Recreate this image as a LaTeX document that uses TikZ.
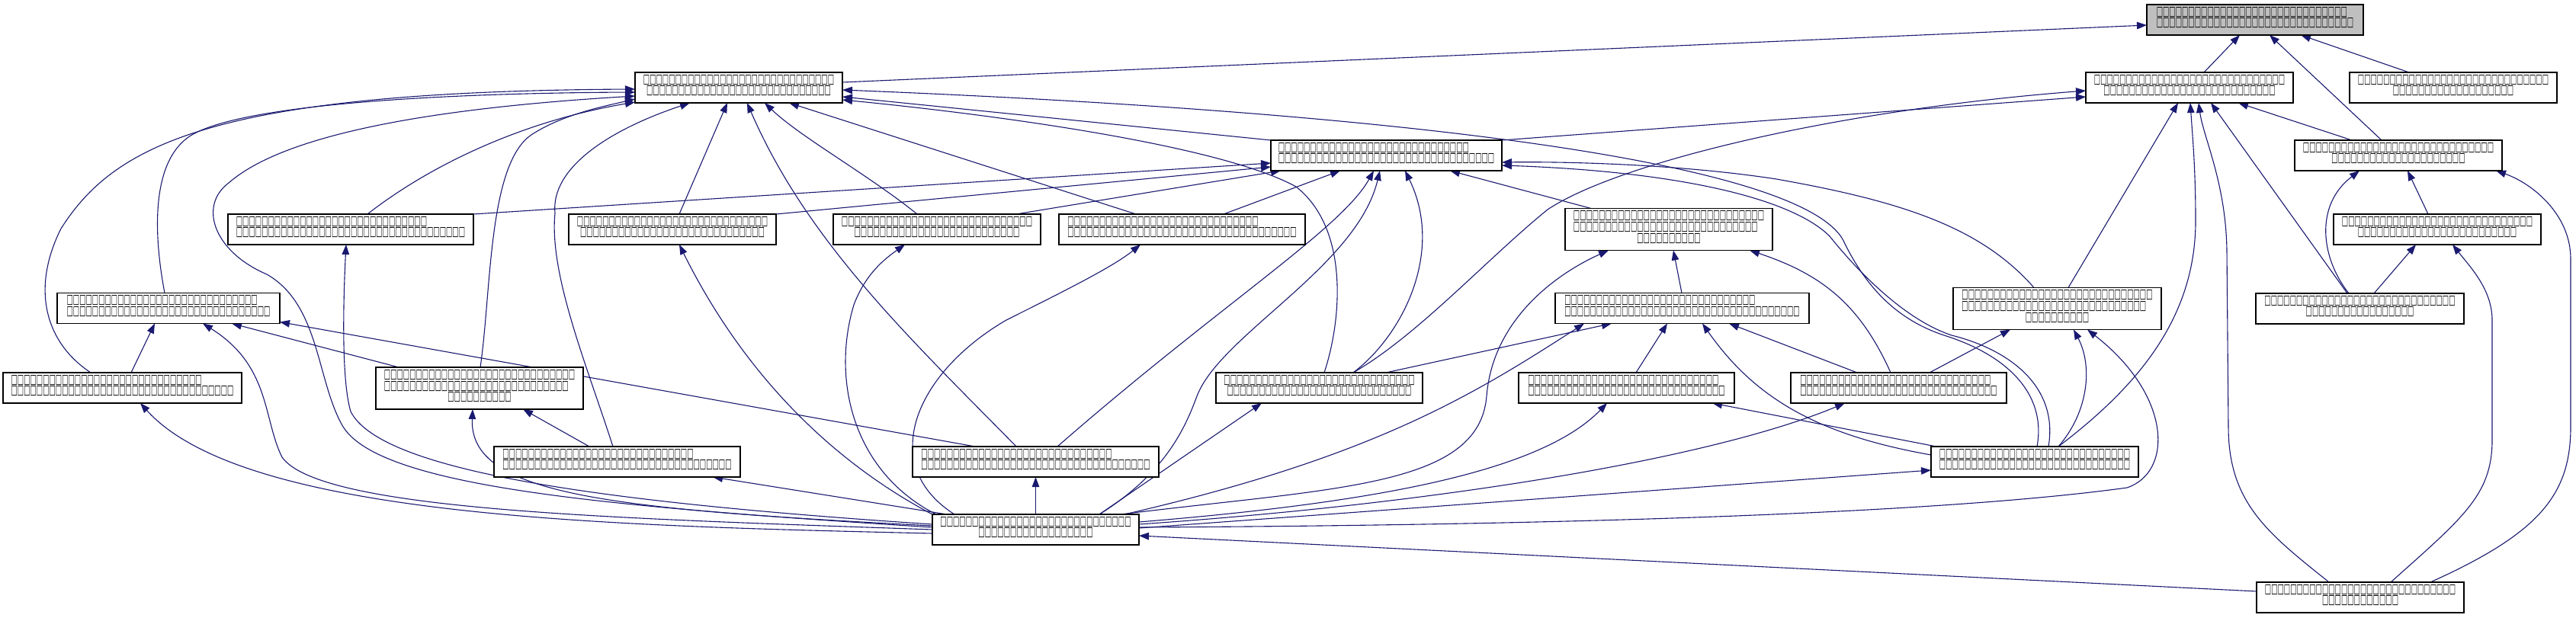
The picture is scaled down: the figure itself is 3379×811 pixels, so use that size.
\documentclass[tikz,border=0pt]{standalone}
\usepackage{fontspec}
\usepackage{graphicx}
\usetikzlibrary{arrows.meta,calc}
\newfontfamily\tofufont{DejaVu Sans}
\newcommand\tg{\makebox[8.34pt][c]{\resizebox{8.3pt}{11pt}{\tofufont\bfseries □}}}
\ExplSyntaxOn
\cs_new:Npn \tfrow #1 { \prg_replicate:nn {#1} { \tg } }
\ExplSyntaxOff
\newcommand\tfpad[2]{\makebox[\dimexpr 8.34pt*#2\relax][l]{\tfrow{#1}}}
\newcommand\tfend{\rule[-7.8pt]{0pt}{7.8pt}}
\definecolor{edgeblue}{HTML}{191970}
\pgfdeclarelayer{edges}
\pgfsetlayers{edges,main}
\tikzset{
  dnode/.style={draw=black, line width=1.3pt, fill=white, inner sep=0pt, outer sep=0pt,
    minimum height=40pt, font=\fontsize{11pt}{14.7pt}\selectfont},
  dedge/.style={draw=edgeblue, line width=1.1pt, -{Triangle[length=13pt,width=9.5pt]}},
}
\begin{document}
\begin{tikzpicture}[x=1pt,y=-1pt]
\useasboundingbox (0,0) rectangle (3379,811);
% nodes
\node[dnode, minimum width=284pt, fill=gray!50, align=left] (T) at (2958,26) {\tfrow{30}\\\tfrow{31}\tfend};
\node[dnode, minimum width=272pt, align=center] (N1) at (969,115) {\tfrow{30}\\\tfrow{29}\tfend};
\node[dnode, minimum width=272pt, align=center] (H) at (2872,115) {\tfrow{30}\\\tfrow{27}\tfend};
\node[dnode, minimum width=272pt, align=center] (I) at (3218,115) {\tfrow{30}\\\tfrow{19}\tfend};
\node[dnode, minimum width=303pt, align=left] (Hub) at (1818.5,204) {\tfrow{30}\\\tfrow{34}\tfend};
\node[dnode, minimum width=272pt, align=center] (J) at (3146,204) {\tfrow{30}\\\tfrow{21}\tfend};
\node[dnode, minimum width=322pt, align=left] (A) at (460,301) {\tfrow{30}\\\tfrow{36}\tfend};
\node[dnode, minimum width=272pt, align=center] (B) at (882,301) {\tfrow{30}\\\tfrow{29}\tfend};
\node[dnode, minimum width=272pt, align=center] (D) at (1229,301) {\tfrow{30}\\\tfrow{26}\tfend};
\node[dnode, minimum width=323pt, align=left] (E) at (1550.5,301) {\tfrow{30}\\\tfrow{36}\tfend};
\node[dnode, minimum width=272pt, minimum height=55pt, align=center] (F) at (2189,301) {\tfrow{30}\\\tfpad{29}{30}\\\tfrow{10}\tfend};
\node[dnode, minimum width=272pt, align=center] (K) at (3197,301) {\tfrow{30}\\\tfrow{25}\tfend};
\node[dnode, minimum width=292pt, align=left] (C) at (221,404.5) {\tfrow{30}\\\tfrow{32}\tfend};
\node[dnode, minimum width=333pt, align=left] (G) at (2206.5,404.5) {\tfrow{30}\\\tfrow{37}\tfend};
\node[dnode, minimum width=273pt, minimum height=55pt, align=center] (L) at (2698.5,405) {\tfrow{30}\\\tfpad{29}{30}\\\tfrow{10}\tfend};
\node[dnode, minimum width=273pt, align=center] (M) at (3095.5,405) {\tfrow{30}\\\tfrow{17}\tfend};
\node[dnode, minimum width=313pt, align=left] (N) at (160.5,509) {\tfrow{30}\\\tfrow{35}\tfend};
\node[dnode, minimum width=272pt, minimum height=55pt, align=center] (O) at (629,509.5) {\tfrow{30}\\\tfpad{29}{30}\\\tfrow{10}\tfend};
\node[dnode, minimum width=271pt, align=center] (R) at (1730.5,509) {\tfrow{30}\\\tfrow{29}\tfend};
\node[dnode, minimum width=283pt, align=left] (S) at (2133.5,509) {\tfrow{30}\\\tfrow{31}\tfend};
\node[dnode, minimum width=283pt, align=left] (U) at (2490.5,509) {\tfrow{30}\\\tfrow{31}\tfend};
\node[dnode, minimum width=323pt, align=left] (P) at (809.5,606) {\tfrow{30}\\\tfrow{36}\tfend};
\node[dnode, minimum width=323pt, align=left] (Q) at (1358.5,606) {\tfrow{30}\\\tfrow{36}\tfend};
\node[dnode, minimum width=272pt, align=center] (V) at (2669,606) {\tfrow{30}\\\tfrow{30}\tfend};
\node[dnode, minimum width=271pt, align=center] (Bot) at (1358.5,695) {\tfrow{30}\\\tfrow{18}\tfend};
\node[dnode, minimum width=272pt, align=center] (W) at (3096,784) {\tfrow{30}\\\tfrow{12}\tfend};
% edges
\begin{pgfonlayer}{edges}
\draw[dedge] ($(N1.north east)+(0,13)$) -- ($(T.north west)+(0,27)$);
\draw[dedge] ($(H.north west)+(155,0)$) -- ($(T.south west)+(122,0)$);
\draw[dedge] ($(J.north west)+(114,0)$) -- ($(T.south west)+(161,0)$);
\draw[dedge] ($(I.north west)+(78,0)$) -- ($(T.south west)+(202,0)$);
\draw[dedge] (Hub.north east) -- ($(H.north west)+(0,32)$);
\draw[dedge] ($(R.north west)+(180,0)$) .. controls (1860,440) and (1950,340) .. (2030,275) .. controls (2120,215) and (2400,145) .. ($(H.north west)+(0,24)$);
\draw[dedge] ($(L.north west)+(151,0)$) -- ($(H.south west)+(121,0)$);
\draw[dedge] ($(V.north west)+(167,0)$) .. controls (2800,510) and (2880,420) .. (2880,290) .. controls (2880,220) and (2876,180) .. ($(H.south west)+(137,0)$);
\draw[dedge] ($(W.north west)+(95,0)$) .. controls (2975,700) and (2923,660) .. (2923,560) -- (2921,330) .. controls (2920,240) and (2890,180) .. ($(H.south west)+(148,0)$);
\draw[dedge] ($(M.north west)+(120,0)$) -- ($(H.south west)+(164,0)$);
\draw[dedge] ($(J.north west)+(75,0)$) -- ($(H.south west)+(200,0)$);
\draw[dedge] (Hub.north west) -- ($(N1.north east)+(0,32)$);
\draw[dedge] ($(R.north west)+(142,0)$) .. controls (1760,420) and (1770,300) .. (1700,245) .. controls (1600,190) and (1300,150) .. ($(N1.north east)+(0,36)$);
\draw[dedge] ($(V.north west)+(139,0)$) .. controls (2685,515) and (2630,465) .. (2550,440) .. controls (2490,420) and (2450,380) .. (2420,320) .. controls (2380,220) and (1900,150) .. ($(N1.north east)+(0,23)$);
\draw[dedge] (A.north east) -- ($(Hub.north west)+(0,30)$);
\draw[dedge] (B.north east) -- ($(Hub.north west)+(0,35)$);
\draw[dedge] ($(D.north west)+(240,0)$) -- ($(Hub.south west)+(13,0)$);
\draw[dedge] ($(E.north west)+(216,0)$) -- ($(Hub.south west)+(91,0)$);
\draw[dedge] ($(Q.north west)+(190,0)$) .. controls (1600,400) and (1760,300) .. ($(Hub.south west)+(135,0)$);
\draw[dedge] ($(Bot.north west)+(219,0)$) .. controls (1530,620) and (1555,560) .. (1570,520) .. controls (1600,440) and (1780,350) .. ($(Hub.south west)+(143,0)$);
\draw[dedge] ($(R.north west)+(180,0)$) .. controls (1840,440) and (1895,330) .. ($(Hub.south west)+(176,0)$);
\draw[dedge] ($(F.north west)+(34,0)$) -- ($(Hub.south west)+(235,0)$);
\draw[dedge] ($(L.north west)+(106,0)$) .. controls (2600,300) and (2500,265) .. (2330,235) .. controls (2200,215) and (2050,212) .. ($(Hub.north east)+(0,29)$);
\draw[dedge] ($(V.north west)+(154,0)$) .. controls (2700,510) and (2640,460) .. (2560,440) .. controls (2500,420) and (2440,360) .. (2400,310) .. controls (2350,260) and (2200,225) .. ($(Hub.north east)+(0,33)$);
\draw[dedge] ($(G.north west)+(166,0)$) -- ($(F.south west)+(142,0)$);
\draw[dedge] ($(Bot.north west)+(247,0)$) .. controls (1750,640) and (1940,640) .. (1950,520) .. controls (1958,420) and (2040,360) .. ($(F.south west)+(57,0)$);
\draw[dedge] ($(U.north west)+(131,0)$) .. controls (2440,400) and (2390,360) .. ($(F.south west)+(242,0)$);
\draw[dedge] ($(Bot.north west)+(252,0)$) .. controls (1800,600) and (1930,520) .. ($(G.south west)+(38,0)$);
\draw[dedge] ($(R.north west)+(223,0)$) -- ($(G.south west)+(74,0)$);
\draw[dedge] ($(S.north west)+(154,0)$) -- ($(G.south west)+(147,0)$);
\draw[dedge] ($(V.north west)+(0,11)$) .. controls (2380,570) and (2300,520) .. ($(G.south west)+(193,0)$);
\draw[dedge] ($(U.north west)+(87,0)$) -- ($(G.south west)+(228,0)$);
\draw[dedge] ($(U.north west)+(182,0)$) -- ($(L.south west)+(75,0)$);
\draw[dedge] ($(V.north west)+(167,0)$) .. controls (2740,540) and (2745,480) .. ($(L.south west)+(158,0)$);
\draw[dedge] ($(Bot.north east)+(0,17)$) .. controls (1900,690) and (2500,680) .. (2790,640) .. controls (2850,620) and (2850,520) .. ($(L.south west)+(176,0)$);
\draw[dedge] ($(M.north west)+(122,0)$) .. controls (3045,340) and (3035,270) .. ($(J.south west)+(85,0)$);
\draw[dedge] ($(K.north west)+(124,0)$) -- ($(J.south west)+(148,0)$);
\draw[dedge] ($(W.north west)+(228,0)$) .. controls (3330,700) and (3372,650) .. (3372,560) -- (3372,340) .. controls (3372,280) and (3320,240) .. ($(J.south west)+(264,0)$);
\draw[dedge] ($(M.north west)+(155,0)$) -- ($(K.south west)+(108,0)$);
\draw[dedge] ($(W.north west)+(176,0)$) .. controls (3230,680) and (3268,650) .. (3269,580) -- (3269,420) .. controls (3269,380) and (3240,350) .. ($(K.south west)+(156,0)$);
\draw[dedge] ($(W.north west)+(0,12)$) -- ($(Bot.north east)+(0,28)$);
\draw[dedge] ($(N.north west)+(115,0)$) .. controls (60,450) and (40,380) .. (80,300) .. controls (150,190) and (280,120) .. ($(N1.north west)+(0,22)$);
\draw[dedge] ($(C.north west)+(141,0)$) .. controls (200,300) and (200,210) .. (250,178) .. controls (320,135) and (600,122) .. ($(N1.north west)+(0,26)$);
\draw[dedge] ($(Bot.north west)+(0,17)$) .. controls (800,665) and (500,640) .. (450,560) .. controls (415,500) and (420,400) .. (350,360) .. controls (280,330) and (260,270) .. (300,240) .. controls (380,170) and (600,140) .. ($(N1.north west)+(0,31)$);
\draw[dedge] ($(O.north west)+(137,0)$) .. controls (645,380) and (640,210) .. (700,175) .. controls (740,150) and (790,140) .. ($(N1.north west)+(0,35)$);
\draw[dedge] ($(A.north west)+(183,0)$) .. controls (560,220) and (680,160) .. ($(N1.north west)+(0,39)$);
\draw[dedge] ($(P.north west)+(156,0)$) .. controls (770,480) and (720,360) .. (728,280) .. controls (722,220) and (800,170) .. ($(N1.south west)+(72,0)$);
\draw[dedge] ($(B.north west)+(145,0)$) -- ($(N1.south west)+(121,0)$);
\draw[dedge] ($(Q.north west)+(136,0)$) .. controls (1200,450) and (1060,320) .. ($(N1.south west)+(147,0)$);
\draw[dedge] ($(D.north west)+(110,0)$) .. controls (1140,230) and (1050,180) .. ($(N1.south west)+(170,0)$);
\draw[dedge] ($(E.north west)+(101,0)$) -- ($(N1.south west)+(202,0)$);
\draw[dedge] ($(N.north west)+(168,0)$) -- ($(C.south west)+(128,0)$);
\draw[dedge] ($(Bot.north west)+(0,20)$) .. controls (800,680) and (420,670) .. (370,600) .. controls (345,550) and (355,480) .. ($(C.south west)+(191,0)$);
\draw[dedge] ($(O.north west)+(30,0)$) -- ($(C.south west)+(229,0)$);
\draw[dedge] ($(Q.north west)+(82,0)$) -- ($(C.north east)+(0,38)$);
\draw[dedge] ($(Bot.north west)+(0,25)$) .. controls (800,690) and (320,680) .. ($(N.south west)+(180,0)$);
\draw[dedge] ($(Bot.north west)+(0,13)$) .. controls (800,660) and (500,620) .. (460,540) .. controls (448,500) and (450,400) .. ($(A.south west)+(155,0)$);
\draw[dedge] (Bot.north west) .. controls (1100,610) and (980,500) .. ($(B.south west)+(145,0)$);
\draw[dedge] ($(Bot.north west)+(5,0)$) .. controls (1120,620) and (1090,500) .. (1120,400) .. controls (1135,360) and (1160,340) .. ($(D.south west)+(94,0)$);
\draw[dedge] ($(Bot.north west)+(29,0)$) .. controls (1150,610) and (1200,490) .. (1320,420) .. controls (1400,380) and (1460,350) .. ($(E.south west)+(107,0)$);
\draw[dedge] ($(Bot.north west)+(19,0)$) -- ($(P.south west)+(287,0)$);
\draw[dedge] ($(Bot.north west)+(0,15)$) .. controls (800,668) and (615,650) .. ($(O.south west)+(127,0)$);
\draw[dedge] ($(P.north west)+(125,0)$) -- ($(O.south west)+(193,0)$);
\draw[dedge] (Bot.north) -- (Q.south);
\draw[dedge] ($(Bot.north west)+(219,0)$) -- ($(R.south west)+(60,0)$);
\draw[dedge] ($(Bot.north east)+(0,10)$) .. controls (1800,660) and (2020,620) .. ($(S.south west)+(116,0)$);
\draw[dedge] ($(V.north west)+(7,0)$) -- ($(S.south west)+(254,0)$);
\draw[dedge] ($(Bot.north east)+(0,13)$) .. controls (1900,660) and (2250,600) .. ($(U.south west)+(71,0)$);
\draw[dedge] ($(Bot.north east)+(0,18)$) -- ($(V.north west)+(0,31)$);
\end{pgfonlayer}
\end{tikzpicture}
\end{document}
